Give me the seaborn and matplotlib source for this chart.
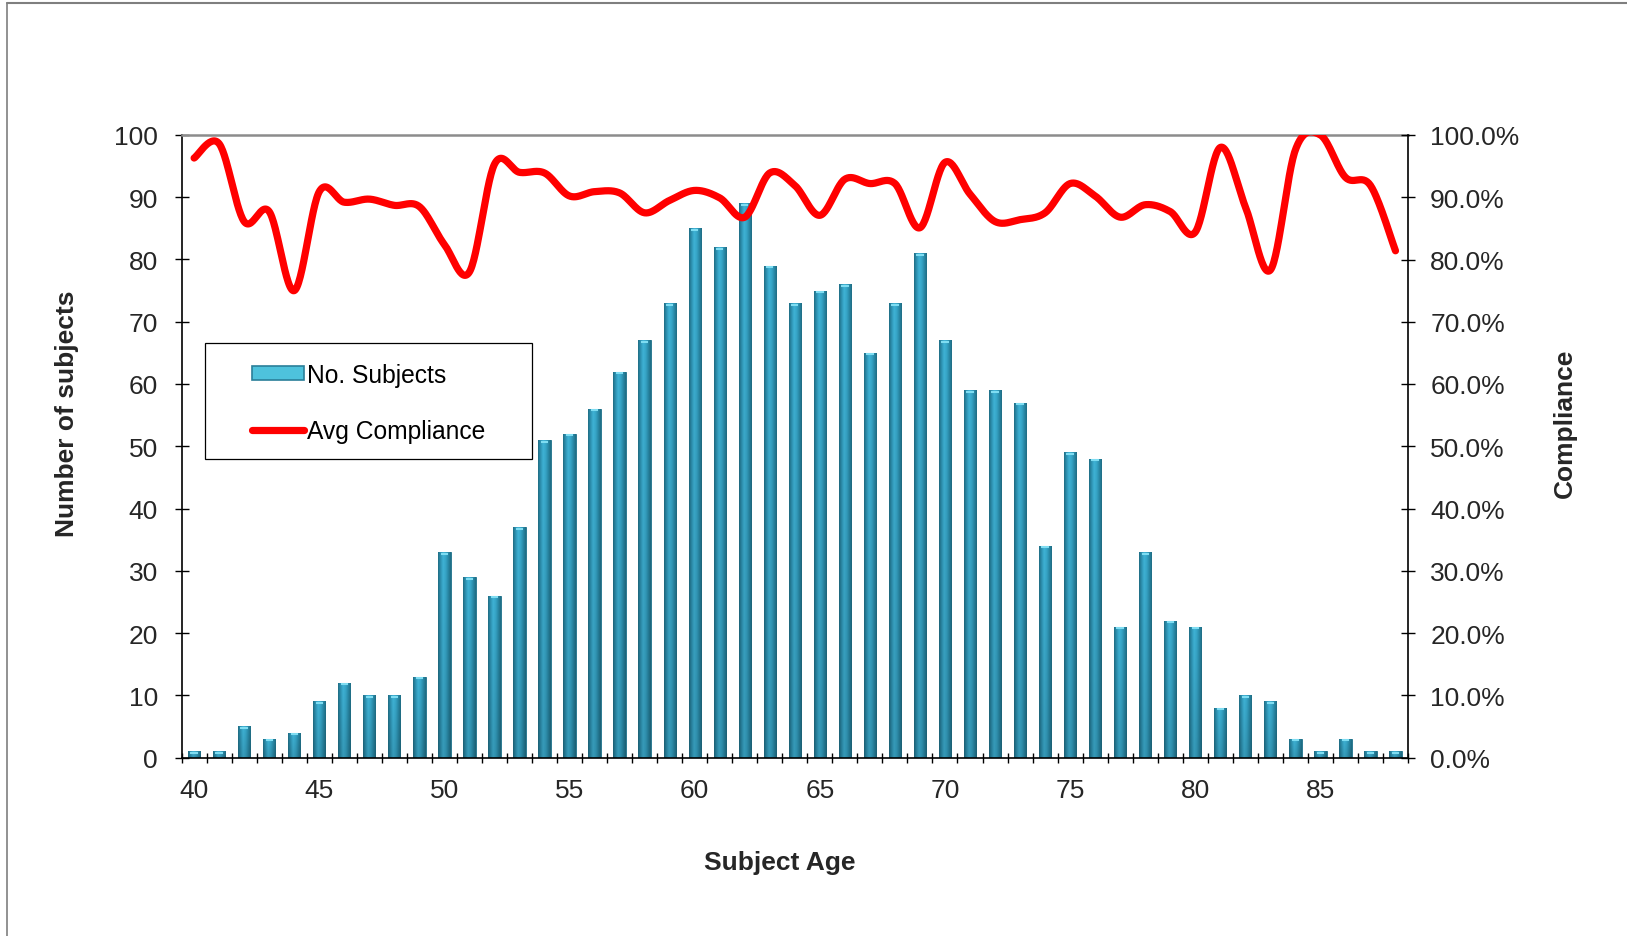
import numpy as np
import pandas as pd
import matplotlib
matplotlib.use("Agg")
import matplotlib.pyplot as plt
import seaborn as sns
from matplotlib.colors import LinearSegmentedColormap
from matplotlib.lines import Line2D
from matplotlib.patches import Patch, Rectangle
from matplotlib.ticker import FixedLocator, FuncFormatter

# ---- data -------------------------------------------------------------
ages = list(range(40, 89))
subjects = [1, 1, 5, 3, 4, 9, 12, 10, 10, 13,
            33, 29, 26, 37, 51, 52, 56, 62, 67, 73,
            85, 82, 89, 79, 73, 75, 76, 65, 73, 81,
            67, 59, 59, 57, 34, 49, 48, 21, 33, 22,
            21, 8, 10, 9, 3, 1, 3, 1, 1]
compliance = [96.3, 98.6, 86.1, 87.7, 75.0, 90.9, 89.2, 89.7, 88.7, 88.5,
              82.4, 78.0, 95.3, 94.0, 93.9, 90.2, 90.9, 90.7, 87.5, 89.5,
              91.1, 89.9, 86.8, 93.9, 91.9, 87.1, 92.9, 92.2, 92.2, 85.1,
              95.6, 90.5, 86.1, 86.4, 87.5, 92.2, 90.2, 86.8, 88.8, 87.7,
              84.4, 98.0, 88.5, 78.3, 97.6, 100.0, 93.2, 91.9, 81.4]
age_labels = [40, 45, 50, 55, 60, 65, 70, 75, 80, 85]

df = pd.DataFrame({"age": ages, "subjects": subjects, "compliance": compliance})

# ---- style ------------------------------------------------------------
sns.set_style("white")
plt.rcParams["font.family"] = ["Liberation Sans", "DejaVu Sans"]
FS = 19
LEG_FS = 17.7
RED = "#FF0000"
LW = 5.2

W, H = 1627, 937
fig = plt.figure(figsize=(W / 100, H / 100), dpi=100)
ax = fig.add_axes([181.6 / W, 1 - 758.5 / H, 1226.4 / W, 622.5 / H])

# ---- bars -------------------------------------------------------------
sns.barplot(data=df, x="age", y="subjects", order=ages, width=0.49,
            color="#2E94B4", edgecolor="#1E6F87", linewidth=0.6,
            saturation=1, ax=ax, zorder=2)

# cylinder-like shading on every bar
shade = LinearSegmentedColormap.from_list(
    "cyl", ["#1F6D84", "#2E93B3", "#3FB3D6", "#37A6C8", "#2989A7", "#1F6D84"])
xs = np.linspace(0, 1, 64)
vert = np.linspace(1.0, 0.86, 64)[:, None]
grad = shade(xs)[None, :, :3] * vert[:, :, None]
for p in ax.patches:
    x0, w, h = p.get_x(), p.get_width(), p.get_height()
    im = ax.imshow(grad, extent=[x0, x0 + w, 0, h], aspect="auto",
                   origin="upper", zorder=2.1, interpolation="bilinear")
    im.set_clip_path(p)
    # light cap on top of each cylinder
    ax.plot([x0 + w * 0.2, x0 + w * 0.8], [h - 0.25, h - 0.25],
            color="#7FDDF2", lw=1.5, solid_capstyle="butt", zorder=2.2)

ax.set_xlim(-0.5, len(ages) - 0.5)
ax.set_ylim(0, 100)
ax.set_yticks(range(0, 101, 10))
ax.set_xticks([ages.index(a) for a in age_labels])
ax.set_xticklabels([str(a) for a in age_labels])
ax.xaxis.set_minor_locator(FixedLocator(np.arange(-0.5, len(ages), 1.0)))
ax.tick_params(axis="x", which="major", length=0, pad=15, labelsize=FS)
ax.tick_params(axis="x", which="minor", length=7, width=1, direction="inout",
               color="black", bottom=True)
ax.tick_params(axis="y", which="major", length=10, width=1, direction="inout",
               color="black", pad=12, labelsize=FS, left=True)
ax.set_xlabel("Subject Age", fontsize=FS, fontweight="bold", labelpad=34)
ax.set_ylabel("Number of subjects", fontsize=FS, fontweight="bold", labelpad=25)
ax.xaxis.label.set_x(0.488)
ax.yaxis.label.set_y(0.554)

for s in ("left", "bottom"):
    ax.spines[s].set_color("black")
    ax.spines[s].set_linewidth(1.2)
ax.spines["top"].set_color("#8C8C8C")
ax.spines["top"].set_linewidth(1.8)
ax.spines["right"].set_visible(False)

# ---- compliance line (smoothed through each point) ----------------------
ax2 = ax.twinx()
px = np.arange(len(ages), dtype=float)
py = np.asarray(compliance) / 100.0
P = np.column_stack([px, py])
Pe = np.vstack([P[0], P, P[-1]])
t = np.linspace(0, 1, 30)[:, None]
curve = []
for i in range(len(P) - 1):
    p0, p1, p2, p3 = Pe[i], Pe[i + 1], Pe[i + 2], Pe[i + 3]
    b1 = p1 + (p2 - p0) / 6.0
    b2 = p2 - (p3 - p1) / 6.0
    seg = ((1 - t) ** 3) * p1 + 3 * ((1 - t) ** 2) * t * b1 \
        + 3 * (1 - t) * t ** 2 * b2 + t ** 3 * p2
    curve.append(seg if i == 0 else seg[1:])
curve = np.vstack(curve)
smooth = pd.DataFrame({"x": curve[:, 0], "y": curve[:, 1]})
sns.lineplot(data=smooth, x="x", y="y", sort=False, estimator=None,
             color=RED, linewidth=LW, ax=ax2, zorder=5)
ax2.lines[-1].set_solid_capstyle("round")

ax2.set_ylim(0, 1)
ax2.set_xlim(-0.5, len(ages) - 0.5)
ax2.set_yticks(np.linspace(0, 1, 11))
ax2.yaxis.set_major_formatter(FuncFormatter(lambda v, _: f"{v * 100:.1f}%"))
ax2.tick_params(axis="y", which="major", length=10, width=1, direction="inout",
                color="black", pad=11, labelsize=FS, right=True)
ax2.set_ylabel("Compliance", fontsize=FS, fontweight="bold", labelpad=24,
               rotation=90)
ax2.yaxis.label.set_y(0.539)
ax2.set_xlabel("")
for s in ("top", "left", "bottom"):
    ax2.spines[s].set_visible(False)
ax2.spines["right"].set_color("black")
ax2.spines["right"].set_linewidth(1.2)

# ---- legend -------------------------------------------------------------
frame = Rectangle((0.0191, 0.4795), 0.2666, 0.1864, transform=ax2.transAxes,
                  facecolor="white", edgecolor="black", linewidth=0.9,
                  zorder=6, clip_on=False)
ax2.add_patch(frame)
handles = [Patch(facecolor="#4EC2DC", edgecolor="#2A7F99", linewidth=1.2),
           Line2D([0], [0], color=RED, linewidth=LW, solid_capstyle="round")]
leg = ax2.legend(handles, ["No. Subjects", "Avg Compliance"],
                 loc="center left", bbox_to_anchor=(0.0574, 0.570),
                 fontsize=LEG_FS, frameon=False, handlelength=2.1,
                 handleheight=0.55, handletextpad=0.12, labelspacing=1.3,
                 borderpad=0, borderaxespad=0)
leg.set_zorder(7)
for txt in leg.get_texts():
    txt.set_color("black")

# ---- outer border of the figure -------------------------------------------
fig.add_artist(Line2D([7 / W, 1], [1 - 4 / H, 1 - 4 / H], color="#7F7F7F",
                      lw=1.5, transform=fig.transFigure))
fig.add_artist(Line2D([7 / W, 7 / W], [0, 1 - 4 / H], color="#7F7F7F",
                      lw=1.2, transform=fig.transFigure))

fig.savefig("out.png", dpi=100, facecolor="white")
